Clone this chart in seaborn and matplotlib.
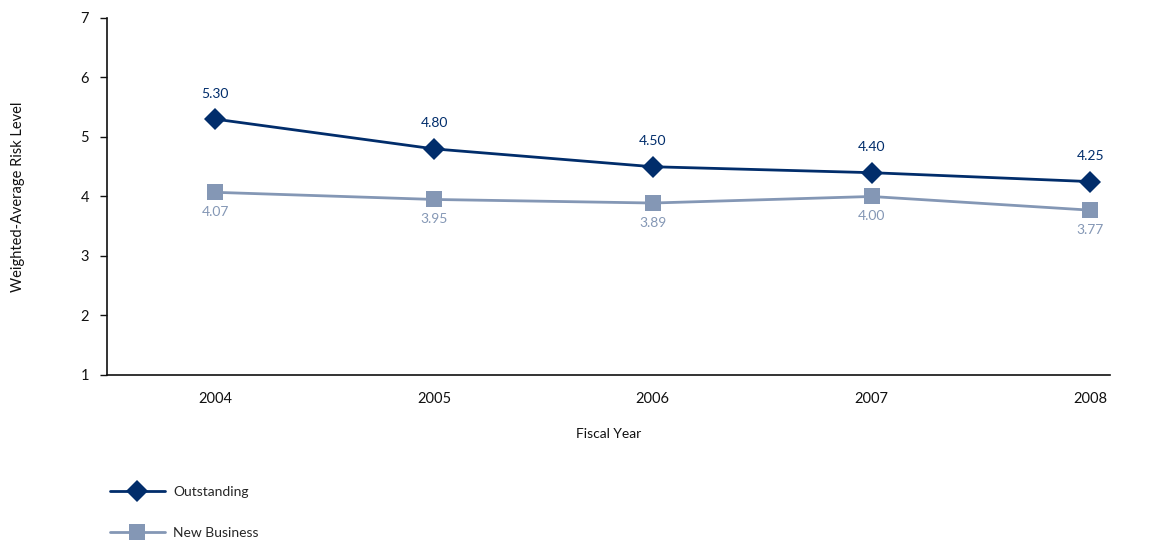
import matplotlib
matplotlib.use("Agg")
import matplotlib.pyplot as plt
import seaborn as sns
import pandas as pd

years = [2004, 2005, 2006, 2007, 2008]
outstanding = [5.30, 4.80, 4.50, 4.40, 4.25]
new_business = [4.07, 3.95, 3.89, 4.00, 3.77]
series_names = ["Outstanding", "New Business"]

dark = "#012D6B"
light = "#8497B5"

sns.set_theme(style="white")
plt.rcParams["font.family"] = ["Lato", "DejaVu Sans"]

df = pd.DataFrame({
    "year": years * 2,
    "value": outstanding + new_business,
    "series": [series_names[0]] * len(years) + [series_names[1]] * len(years),
})

fig = plt.figure(figsize=(11.58, 5.4), dpi=100)
ax = fig.add_axes([0.0924, 0.3056, 0.8661, 0.6611])

sns.lineplot(data=df[df.series == series_names[0]], x="year", y="value", ax=ax,
             color=dark, lw=2.0, marker="D", markersize=11, markeredgewidth=0,
             label=series_names[0])
sns.lineplot(data=df[df.series == series_names[1]], x="year", y="value", ax=ax,
             color=light, lw=2.0, marker="s", markersize=11, markeredgewidth=0,
             label=series_names[1])

for x, v in zip(years, outstanding):
    ax.annotate(f"{v:.2f}", (x, v), xytext=(0, 14), textcoords="offset points",
                ha="center", va="bottom", color=dark, fontsize=10)
for x, v in zip(years, new_business):
    ax.annotate(f"{v:.2f}", (x, v), xytext=(0, -10), textcoords="offset points",
                ha="center", va="top", color=light, fontsize=10)

ax.set_xlim(2003.505, 2008.09)
ax.set_ylim(1, 7)
ax.set_xticks(years)
ax.set_xticklabels([str(y) for y in years])
ax.set_yticks(range(1, 8))
ax.set_yticklabels([str(i) for i in range(1, 8)])

for s in ["top", "right"]:
    ax.spines[s].set_visible(False)
for s in ["left", "bottom"]:
    ax.spines[s].set_color("#111111")
    ax.spines[s].set_linewidth(1.2)

ax.tick_params(axis="y", which="both", left=True, length=5, width=1, color="#111111",
               labelsize=10.5, pad=8, labelcolor="#111111")
ax.tick_params(axis="x", bottom=False, labelsize=10.5, pad=6, labelcolor="#111111")

ax.set_xlabel("Fiscal Year", fontsize=10, color="#111111", labelpad=16)
ax.set_ylabel("Weighted-Average Risk Level", fontsize=10.5, color="#111111", labelpad=40)

leg = ax.legend(loc="upper left", bbox_to_anchor=(-0.003, -0.295), frameon=False,
                fontsize=10, handlelength=4.0, labelspacing=2.1, handletextpad=0.6,
                borderaxespad=0)

fig.savefig("out.png", dpi=100)
